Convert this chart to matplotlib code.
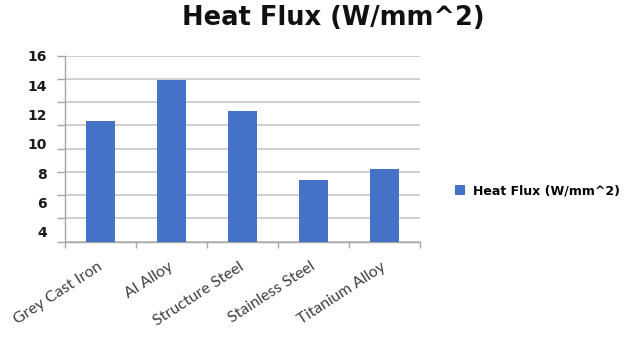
import numpy as np
import matplotlib
matplotlib.use("Agg")
import matplotlib.pyplot as plt

categories = ["Grey Cast Iron", "Al Alloy", "Structure Steel", "Stainless Steel", "Titanium Alloy"]
heat_flux = [11.55, 14.34, 12.23, 7.51, 8.25]
ytick_values = [4, 6, 8, 10, 12, 14, 16]
series_name = "Heat Flux (W/mm^2)"

W, H = 634, 341
fig = plt.figure(figsize=(W / 100, H / 100), dpi=100)
ax = fig.add_axes([65 / W, 1 - 241.7 / H, (420 - 65) / W, (241.7 - 55.7) / H])
ax.yaxis.remove_overlapping_locs = False

x = np.arange(len(categories))
bars = ax.bar(x, heat_flux, width=0.4, color="#4472C4", zorder=3, label=series_name)

ymin, ymax = 3.32, 16
ax.set_ylim(ymin, ymax)
ax.set_xlim(-0.5, len(categories) - 0.5)

# labels
ax.set_yticks(ytick_values)
ax.set_yticklabels([str(v) for v in ytick_values], fontsize=10, fontweight="bold",
                   family="DejaVu Sans", color="#1a1a1a")
ax.tick_params(axis="y", which="major", length=0, pad=13)
# gridlines (minor)
ax.set_yticks(np.linspace(ymin, ymax, 9), minor=True)
ax.tick_params(axis="y", which="minor", length=6, color="#a6a6a6", width=1)
ax.grid(axis="y", which="minor", color="#cccccc", linewidth=1.3, zorder=0)

ax.set_xticks(x)
ax.set_xticklabels(categories, rotation=33, ha="right", va="center", rotation_mode="anchor",
                   fontsize=11.5, family="Lato", color="#404040")
ax.tick_params(axis="x", which="major", length=0, pad=17)
ax.set_xticks(np.arange(-0.5, len(categories), 1.0), minor=True)
ax.tick_params(axis="x", which="minor", length=4, color="#a6a6a6", width=1)

for s in ["top", "right"]:
    ax.spines[s].set_visible(False)
for s in ["left", "bottom"]:
    ax.spines[s].set_color("#a6a6a6")
    ax.spines[s].set_linewidth(1)

fig.text(333 / W, 1 - 18 / H, "Heat Flux (W/mm^2)", ha="center", va="center",
         fontsize=18.5, fontweight="bold", family="DejaVu Sans", color="#111111")

leg = ax.legend(loc="center left", bbox_to_anchor=(444 / W, 1 - 191 / H),
                bbox_transform=fig.transFigure, frameon=False,
                handlelength=0.8, handleheight=0.8, handletextpad=0.6,
                prop={"family": "DejaVu Sans", "weight": "bold", "size": 9})

fig.savefig("out.png", dpi=100)
